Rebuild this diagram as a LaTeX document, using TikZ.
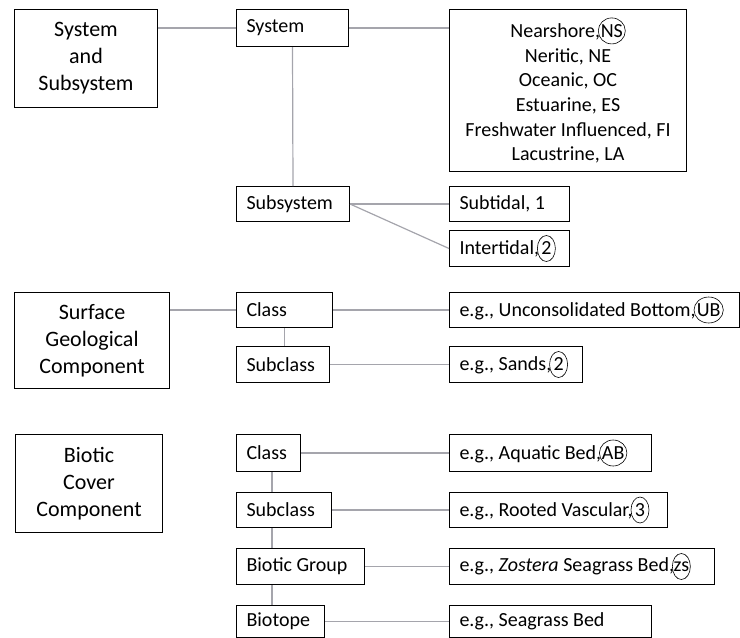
\documentclass[tikz,border=0pt]{standalone}
\usepackage{fontspec}
\setmainfont{Carlito}
\usetikzlibrary{shapes.geometric}
\definecolor{linkgray}{RGB}{165,165,172}
\newcommand{\ringed}[1]{\hspace{-2pt}\tikz[baseline=(rg.base)]\node[draw,ellipse,anchor=center,line width=0.6pt,
    text width={},align=center,inner xsep=-1.5pt,inner ysep=0pt,minimum width=18pt,minimum height=26pt] (rg) {#1};}

\begin{document}
\begin{tikzpicture}[x=1pt,y=-1pt,
    every node/.style={font=\fontsize{20}{24.7}\selectfont},
    bigbox/.style={draw,line width=1pt,anchor=north west,align=center,inner sep=0pt,font=\fontsize{22}{27}\selectfont},
    lbox/.style={draw,line width=1pt,anchor=north west,align=flush left,inner xsep=10pt,inner ysep=0pt,text width=#1},
    link/.style={draw=linkgray,line width=1.2pt}]
        \useasboundingbox (0,0) rectangle (740,638);

        \node[bigbox,minimum width=143,minimum height=98] (sas) at (14,9) {System\\and\\Subsystem};
        \node[lbox=92pt,minimum height=37] (sys) at (236,9) {System};
        \node[bigbox,font=\fontsize{20}{24.7}\selectfont,minimum width=237,minimum height=162] (list) at (449,9)
            {Nearshore,\ringed{NS}\\Neritic, NE\\Oceanic, OC\\Estuarine, ES\\Freshwater Influenced, FI\\Lacustrine, LA};
        \node[lbox=93pt,minimum height=35] (sub) at (236,186) {Subsystem};
        \node[lbox=100pt,minimum height=35] (tidal) at (449,186) {Subtidal, 1};
        \node[lbox=100pt,minimum height=36] (inter) at (449,230) {Intertidal,\ringed{2}};

        \node[bigbox,minimum width=155,minimum height=96] (surf) at (14,292) {Surface\\Geological\\Component};
        \node[lbox=76pt,minimum height=35] (gclass) at (236,292) {Class};
        \node[lbox=73pt,minimum height=36] (gsub) at (236,346) {Subclass};
        \node[lbox=270pt,minimum height=35] (ub) at (449,292) {e.g., Unconsolidated Bottom,\ringed{UB}};
        \node[lbox=113pt,minimum height=36] (sands) at (449,346) {e.g., Sands,\ringed{2}};

        \node[bigbox,minimum width=147,minimum height=98] (biot) at (15,434) {Biotic\\Cover\\Component};
        \node[lbox=44pt,minimum height=37] (bclass) at (236,434) {Class};
        \node[lbox=75pt,minimum height=35] (bsub) at (236,492) {Subclass};
        \node[lbox=108pt,minimum height=36] (bgroup) at (236,548) {Biotic Group};
        \node[lbox=68pt,minimum height=32] (btope) at (236,605) {Biotope};
        \node[lbox=182pt,minimum height=37] (ab) at (449,434) {e.g., Aquatic Bed,\ringed{AB}};
        \node[lbox=198pt,minimum height=35] (rv) at (449,492) {e.g., Rooted Vascular,\ringed{3}};
        \node[lbox=245pt,minimum height=36] (zs) at (449,548) {e.g., \textit{Zostera} Seagrass Bed,\ringed{zs}};
        \node[lbox=182pt,minimum height=32] (sb) at (449,605) {e.g., Seagrass Bed};

        \draw[link] (sys.west) -- (sys.west -| sas.east);
        \draw[link] (sys.east) -- (sys.east -| list.west);
        \draw[link] (sys.south) -- (sub.north);
        \draw[link] (sub.east) -- (tidal.west);
        \draw[link] (sub.east) -- (inter.west);

        \draw[link] (gclass.west) -- (gclass.west -| surf.east);
        \draw[link] (gclass.east) -- (gclass.east -| ub.west);
        \draw[link] (gclass.south) -- (gclass.south |- gsub.north);
        \draw[link] (gsub.east) -- (sands.west);

        \coordinate (spine) at (272,0);
        \draw[link] (bclass.south -| spine) -- (bsub.north -| spine);
        \draw[link] (bsub.south -| spine) -- (bgroup.north -| spine);
        \draw[link] (bgroup.south -| spine) -- (btope.north -| spine);
        \draw[link] (bclass.east) -- (ab.west);
        \draw[link] (bsub.east) -- (rv.west);
        \draw[link] (bgroup.east) -- (zs.west);
        \draw[link] (btope.east) -- (sb.west);
    \end{tikzpicture}
\end{document}
